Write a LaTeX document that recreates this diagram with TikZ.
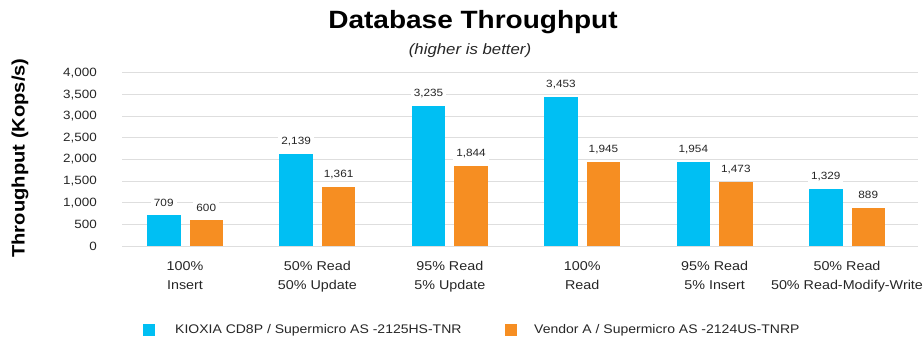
\documentclass[tikz,border=0pt]{standalone}
\usepackage{fontspec}
\setmainfont{Liberation Sans}[FakeStretch=1.12]
\definecolor{cblue}{HTML}{00BFF3}
\definecolor{corange}{HTML}{F68E22}
\definecolor{gridc}{HTML}{DEDEDE}
\begin{document}
\begin{tikzpicture}[x=1pt,y=-1pt,
  gridline/.style={draw=gridc,line width=1pt},
  ticklab/.style={anchor=east,font=\fontsize{12}{12}\selectfont,text=black!85,inner sep=0pt},
  vallab/.style={fill=white,inner xsep=3pt,inner ysep=2pt,font=\fontsize{10.5}{10.5}\selectfont,text=black!85},
  catlab/.style={align=center,font=\fontsize{12.8}{19}\selectfont,text=black!85,anchor=north,inner sep=0pt},
  legtext/.style={anchor=west,font=\fontsize{12.5}{12.5}\selectfont,text=black!85,inner sep=0pt},
  bluebar/.style={fill=cblue,draw=none},
  orangebar/.style={fill=corange,draw=none}]
\useasboundingbox (0,0) rectangle (923,339);
% title
\node[font=\fontsize{25}{25}\selectfont\bfseries] (title) at (473,22) {Database Throughput};
\node[font=\fontsize{15}{15}\selectfont\itshape,text=black!85] (subtitle) at (470,51) {(higher is better)};
\node[rotate=90,font=\fontsize{18}{18}\selectfont\bfseries] (ytitle) at (20,158) {Throughput (Kops/s)};
% grid
\foreach \v/\t in {0/0,1/500,2/{1,000},3/{1,500},4/{2,000},5/{2,500},6/{3,000},7/{3,500},8/{4,000}}{
  \pgfmathsetmacro{\yy}{246-\v*21.625}
  \draw[gridline] (122,\yy) -- (918,\yy);
  \node[ticklab] (tick\v) at (97,\yy) {\t};
}
% bars
\foreach \i/\b/\bl/\o/\ol in {0/709/709/600/600,1/2139/{2,139}/1361/{1,361},2/3235/{3,235}/1844/{1,844},3/3453/{3,453}/1945/{1,945},4/1954/{1,954}/1473/{1,473},5/1329/{1,329}/889/889}{
  \pgfmathsetmacro{\cx}{185+\i*132.4}
  \pgfmathsetmacro{\by}{246-\b*0.0432}
  \pgfmathsetmacro{\oy}{246-\o*0.0432}
  \fill[bluebar] (\cx-38,246) rectangle (\cx-4.5,\by);
  \fill[orangebar] (\cx+4.5,246) rectangle (\cx+38,\oy);
  \node[vallab] (vb\i) at (\cx-21.25,\by-12.5) {\bl};
  \node[vallab] (vo\i) at (\cx+21.25,\oy-12.5) {\ol};
}
% category labels
\foreach \i/\t in {0/{100\%\\Insert},1/{50\% Read\\50\% Update},2/{95\% Read\\5\% Update},3/{100\%\\Read},4/{95\% Read\\5\% Insert},5/{50\% Read\\50\% Read-Modify-Write}}{
  \pgfmathsetmacro{\cx}{185+\i*132.4}
  \node[catlab] (cat\i) at (\cx,261.5) {\t};
}
% legend
\fill[cblue] (143,324) rectangle (155,336);
\node[legtext] (leg1) at (175,330.5) {KIOXIA CD8P / Supermicro AS -2125HS-TNR};
\fill[corange] (505,324) rectangle (517,336);
\node[legtext] (leg2) at (534,330.5) {Vendor A / Supermicro AS -2124US-TNRP};
\end{tikzpicture}
\end{document}
